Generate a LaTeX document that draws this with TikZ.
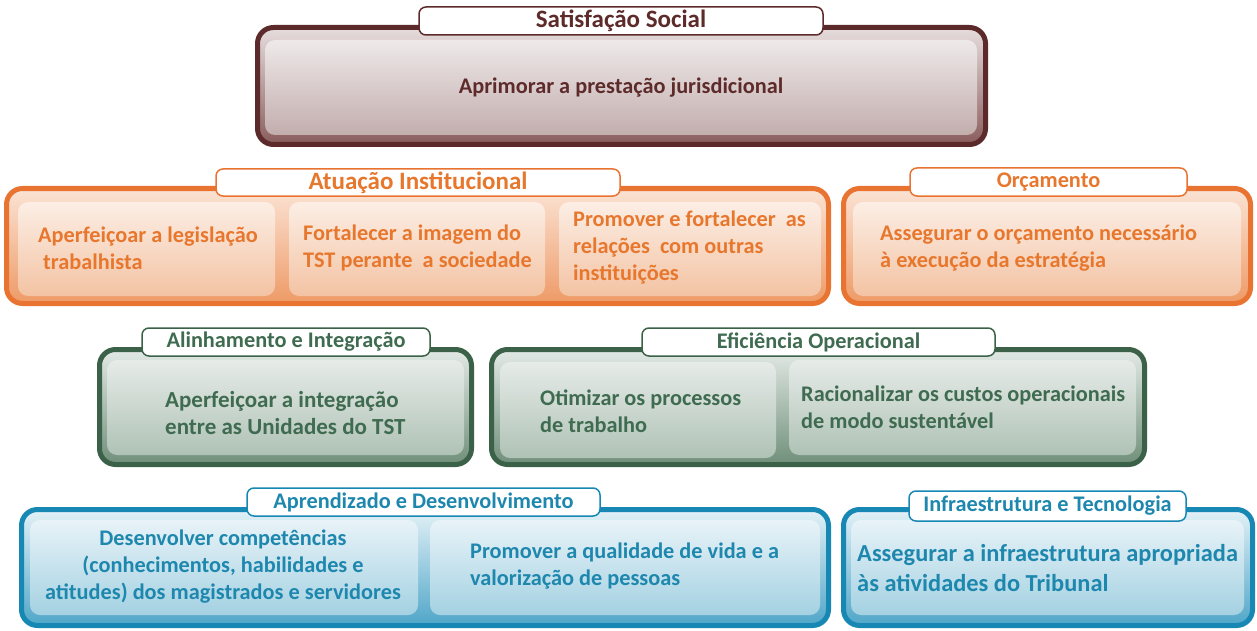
\documentclass[tikz,border=0pt]{standalone}
\usepackage{fontspec}
\setmainfont{Carlito}
\usetikzlibrary{positioning}

\definecolor{brnline}{HTML}{5C2A2A}
\definecolor{brntop}{HTML}{E6DDDD}
\definecolor{brnbot}{HTML}{8A5C5C}
\definecolor{brnptop}{HTML}{EEE9E9}
\definecolor{brnpbot}{HTML}{C3ADAD}
\definecolor{brntxt}{HTML}{5E2B2B}

\definecolor{orgline}{HTML}{E97331}
\definecolor{orgtop}{HTML}{FBE3D4}
\definecolor{orgbot}{HTML}{EE9A66}
\definecolor{orgptop}{HTML}{FCEEE5}
\definecolor{orgpbot}{HTML}{F3C3A3}
\definecolor{orgtxt}{HTML}{E8772E}

\definecolor{grnline}{HTML}{3B6248}
\definecolor{grntop}{HTML}{E3E9E5}
\definecolor{grnbot}{HTML}{6F8F7A}
\definecolor{grnptop}{HTML}{E6EBE8}
\definecolor{grnpbot}{HTML}{AFC2B5}
\definecolor{grntxt}{HTML}{3F6B50}

\definecolor{bluline}{HTML}{1787B3}
\definecolor{blutop}{HTML}{E3F1F7}
\definecolor{blubot}{HTML}{4FA6C8}
\definecolor{bluptop}{HTML}{E8F3F8}
\definecolor{blupbot}{HTML}{A4D1E2}
\definecolor{blutxt}{HTML}{1E87AE}

\tikzset{
     frame/.style={draw=#1line, top color=#1top, bottom color=#1bot, line width=5pt,
       rounded corners=16pt, outer sep=0pt, inner sep=0pt, anchor=north west},
     panel/.style={top color=#1ptop, bottom color=#1pbot, rounded corners=10pt,
       outer sep=0pt, inner sep=0pt, anchor=north west},
     tab/.style={draw=#1line, fill=white, line width=1.5pt, rounded corners=7pt,
       outer sep=0pt, inner sep=0pt, anchor=north west, text=#1txt,
       font=\bfseries\fontsize{22.3}{26}\selectfont},
     bigtab/.style={font=\bfseries\fontsize{25}{28}\selectfont},
     goal/.style={text=#1txt, align=left, anchor=west, inner sep=0pt,
       font=\bfseries\fontsize{22.3}{27}\selectfont},
}

\begin{document}
\begin{tikzpicture}[x=1pt, y=-1pt]
		\useasboundingbox (0,0) rectangle (1257,631);

		%% Satisfacao Social
		\node[frame=brn, minimum width=728pt, minimum height=117pt] (satframe) at (257.5,27.5) {};
		\node[panel=brn, minimum width=712pt, minimum height=95pt] (satpanel) at (265,40) {};
		\node[tab=brn, bigtab, minimum width=404pt, minimum height=28pt] (sattab) at (419,7) {Satisfação Social};
		\node[goal=brn, anchor=center, align=center] (sat1) at (satpanel.center) {Aprimorar a prestação jurisdicional};

		%% Atuacao Institucional
		\node[frame=org, minimum width=822pt, minimum height=115pt] (atuframe) at (6.5,188.5) {};
		\node[panel=org, minimum width=257pt, minimum height=94pt] (atupanela) at (18,202) {};
		\node[panel=org, minimum width=256pt, minimum height=94pt] (atupanelb) at (289,202) {};
		\node[panel=org, minimum width=262pt, minimum height=94pt] (atupanelc) at (559,202) {};
		\node[tab=org, bigtab, minimum width=404pt, minimum height=27pt] (atutab) at (216,169) {Atuação Institucional};
		\node[goal=org] (atu1) at (38,248) {Aperfeiçoar a legislação\\\ trabalhista};
		\node[goal=org] (atu2) at (303,248) {Fortalecer a imagem do\\TST perante\ \ a sociedade};
		\node[goal=org] (atu3) at (573,248) {Promover e fortalecer\ \ as\\relações\ \ com outras\\instituições};

		%% Orcamento
		\node[frame=org, minimum width=407pt, minimum height=115pt] (orcframe) at (843.5,188.5) {};
		\node[panel=org, minimum width=388pt, minimum height=94pt] (orcpanel) at (853,202) {};
		\node[tab=org, minimum width=277pt, minimum height=28pt] (orctab) at (910,168) {Orçamento};
		\node[goal=org] (orc1) at (880,248) {Assegurar o orçamento necessário\\à execução da estratégia};

		%% Alinhamento e Integracao
		\node[frame=grn, minimum width=372pt, minimum height=115pt] (aliframe) at (99.5,349.5) {};
		\node[panel=grn, minimum width=357pt, minimum height=95pt] (alipanel) at (107,360) {};
		\node[tab=grn, minimum width=288pt, minimum height=28pt] (alitab) at (142,328) {Alinhamento e Integração};
		\node[goal=grn, font=\bfseries\fontsize{23}{27}\selectfont] (ali1) at (165,413) {Aperfeiçoar a integração\\entre as Unidades do TST};

		%% Eficiencia Operacional
		\node[frame=grn, minimum width=653pt, minimum height=115pt] (efiframe) at (491.5,349.5) {};
		\node[panel=grn, minimum width=276pt, minimum height=96pt] (efipanela) at (500,362) {};
		\node[panel=grn, minimum width=347pt, minimum height=95pt] (efipanelb) at (789,360) {};
		\node[tab=grn, minimum width=353pt, minimum height=28pt] (efitab) at (642,328) {Eficiência Operacional};
		\node[goal=grn] (efi1) at (540,411) {Otimizar os processos\\de trabalho};
		\node[goal=grn] (efi2) at (801,407) {Racionalizar os custos operacionais\\de modo sustentável};

		%% Aprendizado e Desenvolvimento
		\node[frame=blu, minimum width=807pt, minimum height=116pt] (aprframe) at (21.5,509.5) {};
		\node[panel=blu, minimum width=388pt, minimum height=95pt] (aprpanela) at (30,520) {};
		\node[panel=blu, minimum width=390pt, minimum height=95pt] (aprpanelb) at (430,520) {};
		\node[tab=blu, minimum width=353pt, minimum height=28pt] (aprtab) at (247,488) {Aprendizado e Desenvolvimento};
		\node[goal=blu, anchor=center, align=center] (apr1) at (223,567) {Desenvolver competências\\(conhecimentos, habilidades e\\atitudes) dos magistrados e servidores};
		\node[goal=blu] (apr2) at (470,566) {Promover a qualidade de vida e a\\valorização de pessoas};

		%% Infraestrutura e Tecnologia
		\node[frame=blu, minimum width=409pt, minimum height=116pt] (infframe) at (843.5,509.5) {};
		\node[panel=blu, minimum width=393pt, minimum height=95pt] (infpanel) at (851,520) {};
		\node[tab=blu, minimum width=277pt, minimum height=30pt] (inftab) at (909,491) {Infraestrutura e Tecnologia};
		\node[goal=blu, font=\bfseries\fontsize{24.4}{30}\selectfont] (inf1) at (857,568) {Assegurar a infraestrutura apropriada\\às atividades do Tribunal};

\end{tikzpicture}
\end{document}
